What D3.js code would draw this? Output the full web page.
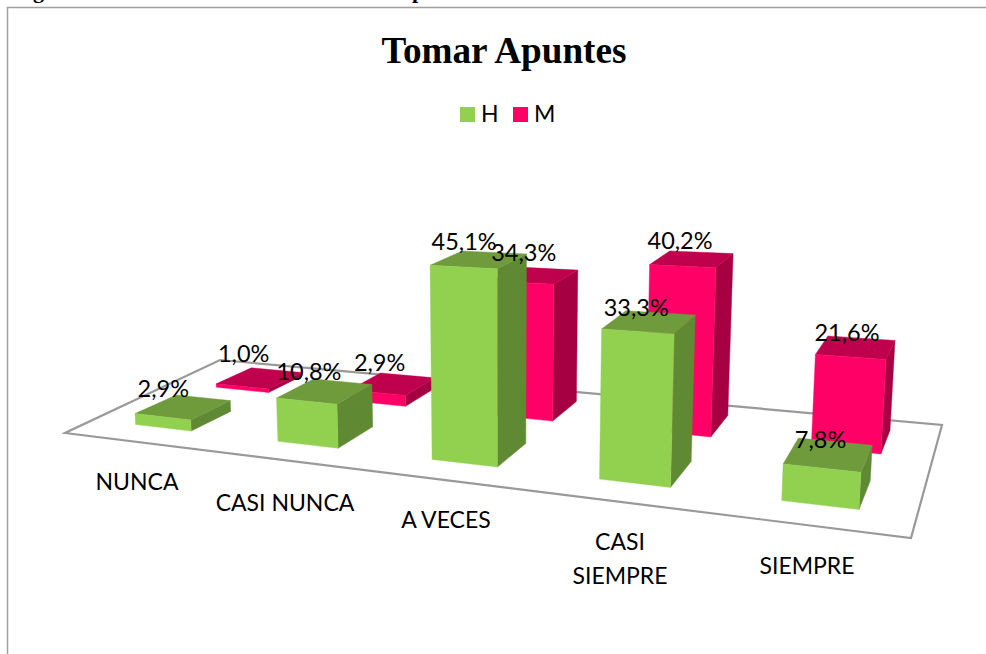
<!DOCTYPE html>
<html><head><meta charset="utf-8">
<script src="https://cdn.jsdelivr.net/npm/d3@7"></script>
<style>html,body{margin:0;padding:0;background:#fff}svg{display:block}</style>
</head><body><svg id="c" width="986" height="654"></svg>
<script>
const categories = ["NUNCA","CASI NUNCA","A VECES","CASI SIEMPRE","SIEMPRE"];
const seriesNames = ["H","M"];
const valuesH = [2.9,10.8,45.1,33.3,7.8];
const valuesM = [1.0,2.9,34.3,40.2,21.6];
const colors = {H:{front:"#92D050",top:"#6F9B3D",side:"#5F8A33"},M:{front:"#FF0066",top:"#BF004D",side:"#A60042"}};
const labelDx = {H:[-20,-16,-15,-13,-8],M:[-16,-13,-12,-12,-9]};
const labelDy = {H:[2,1,2,6,6],M:[-4,-1,-2,2,6]};

const svg = d3.select("#c");
svg.append("path").attr("d","M7.5,654V7.5H986").attr("fill","none").attr("stroke","#a0a0a0").attr("stroke-width",1.5);
[["g",33],["p",412]].forEach(d=>svg.append("text").attr("x",d[1]).attr("y",-2.2).attr("font-family","Liberation Serif").attr("font-weight","bold").attr("font-size",22).text(d[0]));

const FL=[65,433],FR=[911,538],BR=[942,425],BL=[220,360];
function homography(p00,p10,p11,p01){
  const dx1=p10[0]-p11[0],dx2=p01[0]-p11[0],sx=p00[0]-p10[0]+p11[0]-p01[0];
  const dy1=p10[1]-p11[1],dy2=p01[1]-p11[1],sy=p00[1]-p10[1]+p11[1]-p01[1];
  const den=dx1*dy2-dx2*dy1;
  const g=(sx*dy2-dx2*sy)/den,h=(dx1*sy-sx*dy1)/den;
  return {a:[p10[0]-p00[0]+g*p10[0],p10[1]-p00[1]+g*p10[1],g],
          b:[p01[0]-p00[0]+h*p01[0],p01[1]-p00[1]+h*p01[1],h],
          d:[p00[0],p00[1],1]};
}
const M=homography(FL,FR,BR,BL);
const VP=[502,7400], hs=-1/7400;
const c=[hs*VP[0],hs*VP[1],hs];
function project(u,v,z){
  const p=[0,1,2].map(i=>M.a[i]*u+M.b[i]*v+M.d[i]+c[i]*z);
  return [p[0]/p[2],p[1]/p[2]];
}
// bars sit slightly off the floor's nominal perspective spacing
const warp=(u,v)=>u+0.07*u*(1-u)+0.01*(u-0.5)+(1-u)*(0.00775+0.0179*v)-0.0032;
const x0=d3.scaleBand().domain(categories).range([0,1]).paddingInner(0.6).paddingOuter(0.3);
const yDepth=d3.scaleBand().domain(seriesNames).range([0.16,0.89]).paddingInner(0.51).paddingOuter(0);
const zScale=d3.scaleLinear().domain([0,50]).range([0,203]);

const floorPts=[[0,0],[1,0],[1,1],[0,1]].map(d=>project(d[0],d[1],0));
svg.append("polygon").attr("points",floorPts.join(" ")).attr("fill","#fff").attr("stroke","#999").attr("stroke-width",2.2);

const pathOf=pts=>"M"+pts.map(p=>p[0].toFixed(1)+","+p[1].toFixed(1)).join("L")+"Z";
const data=[];
seriesNames.slice().reverse().forEach(s=>{
  const vals=s==="H"?valuesH:valuesM;
  categories.forEach((cat,i)=>data.push({s,cat,val:vals[i],i}));
});
const bars=svg.selectAll("g.bar").data(data).join("g").attr("class","bar");
bars.each(function(d){
  const g=d3.select(this),u0=x0(d.cat),u1=u0+x0.bandwidth(),v0=yDepth(d.s),v1=v0+yDepth.bandwidth(),z=zScale(d.val);
  const P=(u,v,h)=>project(warp(u,v),v,h);
  const col=colors[d.s];
  const face=(pts,fill)=>g.append("path").attr("d",pathOf(pts)).attr("fill",fill).attr("stroke",fill).attr("stroke-width",0.4);
  face([P(u1,v0,0),P(u1,v1,0),P(u1,v1,z),P(u1,v0,z)],col.side);
  face([P(u0,v0,z),P(u1,v0,z),P(u1,v1,z),P(u0,v1,z)],col.top);
  face([P(u0,v0,0),P(u1,v0,0),P(u1,v0,z),P(u0,v0,z)],col.front);
});
const fmt=v=>v.toFixed(1).replace(".",",")+"%";
const labelFont="Lato";
const topCentre=d=>{const v=yDepth(d.s)+yDepth.bandwidth()/2;return project(warp(x0(d.cat)+x0.bandwidth()/2,v),v,zScale(d.val));};
svg.selectAll("text.val").data(data).join("text").attr("class","val")
 .attr("font-family",labelFont).attr("font-size",23.5).attr("fill","#000").attr("text-anchor","middle")
 .attr("x",d=>topCentre(d)[0]+labelDx[d.s][d.i])
 .attr("y",d=>topCentre(d)[1]-12+labelDy[d.s][d.i])
 .text(d=>fmt(d.val));
const catLines=[["NUNCA"],["CASI NUNCA"],["A VECES"],["CASI","SIEMPRE"],["SIEMPRE"]];
const catX=[137,285,446,620,807], catY=[490,511,528,550,574];
categories.forEach((cat,i)=>{
  const t=svg.append("text").attr("font-family",labelFont).attr("font-size",23).attr("text-anchor","middle").attr("fill","#000");
  catLines[i].forEach((l,j)=>t.append("tspan").attr("x",catX[i]).attr("y",catY[i]+j*34).text(l));
});
svg.append("text").attr("x",504).attr("y",63).attr("text-anchor","middle").attr("font-family","Liberation Serif").attr("font-weight","bold").attr("font-size",37.2).text("Tomar Apuntes");
const legendX=[460,513];
seriesNames.forEach((s,i)=>{
  svg.append("rect").attr("x",legendX[i]).attr("y",107).attr("width",15).attr("height",15).attr("fill",colors[s].front);
  svg.append("text").attr("x",legendX[i]+21).attr("y",122).attr("font-family",labelFont).attr("font-size",23).text(s);
});
</script></body></html>
